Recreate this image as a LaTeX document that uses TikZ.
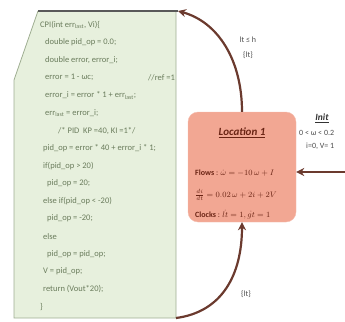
\documentclass[tikz,border=0pt]{standalone}
\usepackage{fontspec}
\setmainfont{Carlito}
\usepackage{amsmath}
\usetikzlibrary{arrows.meta}
\definecolor{codefill}{HTML}{E7F0DD}
\definecolor{codeedge}{HTML}{9FAE92}
\definecolor{codetext}{HTML}{6A7C5C}
\definecolor{locfill}{HTML}{F2A793}
\definecolor{locedge}{HTML}{F4BCAE}
\definecolor{loctext}{HTML}{6A2414}
\definecolor{arrowc}{HTML}{6B3A2E}
\tikzset{
  codeline/.style={anchor=west, inner sep=0pt, text=codetext, font=\fontsize{8.5}{9}\selectfont},
  locline/.style={anchor=west, inner sep=0pt, text=loctext, font=\fontsize{8}{9}\selectfont},
  lbl/.style={inner sep=0pt, text=black!70, font=\fontsize{8}{9}\selectfont},
  conn/.style={draw=arrowc, line width=2.2pt, -{Stealth[length=8pt,width=8pt]}},
}
\begin{document}
\begin{tikzpicture}[x=1pt,y=-1pt]
\useasboundingbox (0,0) rectangle (345,321);
% code box
\fill[codefill] (38,11) -- (176,11) -- (176,318) -- (14,318) -- (14,80) -- cycle;
\draw[codeedge, line width=0.8pt] (176,11) -- (176,318) -- (14,318) -- (14,80) -- (38,11);
\draw[black!65, line width=1.6pt] (38,11) -- (178,11);
\coordinate (ctr) at (178,11);
\coordinate (cbr) at (176,318);
% code lines
\node[codeline] (l1) at (40,25) {CPI(int err\textsubscript{last}, Vi)\{};
\node[codeline] (l2) at (45,42.6) {double pid\_op = 0.0;};
\node[codeline] (l3) at (45,60.2) {double error, error\_i;};
\node[codeline] (l4) at (45,77.8) {error = 1 - ωc;};
\node[codeline] (l4b) at (148,77.8) {//ref =1};
\node[codeline] (l5) at (45,95.4) {error\_i = error * 1 + err\textsubscript{last};};
\node[codeline] (l6) at (45,113) {err\textsubscript{last} = error\_i;};
\node[codeline] (l7) at (58,130.6) {/* PID \ KP =40, KI =1*/};
\node[codeline] (l8) at (43,148.2) {pid\_op = error * 40 + error\_i * 1;};
\node[codeline] (l9) at (43,165.8) {if(pid\_op > 20)};
\node[codeline] (l10) at (47,183.4) {pid\_op = 20;};
\node[codeline] (l11) at (43,201) {else if(pid\_op < -20)};
\node[codeline] (l12) at (47,218.6) {pid\_op = -20;};
\node[codeline] (l13) at (43,236.2) {else};
\node[codeline] (l14) at (47,253.8) {pid\_op = pid\_op;};
\node[codeline] (l15) at (43,271.4) {V = pid\_op;};
\node[codeline] (l16) at (43,289) {return (Vout*20);};
\node[codeline] (l17) at (40,306.6) {\}};
% location box
\node[draw=locedge, fill=locfill, rounded corners=10pt, minimum width=108pt, minimum height=110pt, inner sep=0pt] (loc) at (242,167) {};
\node[inner sep=0pt, text=loctext, font=\fontsize{11}{12}\selectfont\bfseries\itshape] (title) at (242,133) {\underline{Location 1}};
\node[locline] (f1) at (195,173) {\textbf{Flows} : $\dot{\omega} = -10\,\omega + I$};
\node[locline] (f2) at (195,195) {$\frac{di}{dt} = 0.02\,\omega + 2i + 2V$};
\node[locline] (f3) at (195,215) {\textbf{Clocks} : $\dot{lt} = 1, \dot{gt} = 1$};
% init
\node[inner sep=0pt, text=black!80, font=\fontsize{9.5}{10}\selectfont\bfseries\itshape] (init) at (322,118) {\underline{Init}};
\node[lbl, anchor=west] (i1) at (299,133) {0 < ω < 0.2};
\node[lbl, anchor=west] (i2) at (306,146) {i=0, V= 1};
\coordinate (istart) at (346,172);
% connectors
\draw[conn] (istart) -- (loc.east |- istart);
\draw[conn] (loc.north) .. controls (242,60) and (218,22) .. (ctr);
\draw[conn] (cbr) .. controls (222,312) and (242,275) .. (loc.south);
% labels
\node[lbl] (g1) at (248,40) {lt ≤ h};
\node[lbl] (g2) at (248,55) {\{lt\}};
\node[lbl] (g3) at (246,294) {\{lt\}};
\end{tikzpicture}
\end{document}
